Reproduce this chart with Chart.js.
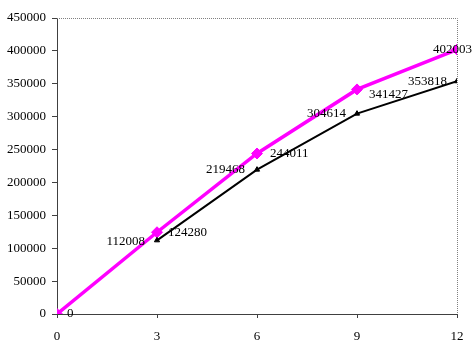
<!DOCTYPE html>
<html>
<head>
<meta charset="utf-8">
<script src="https://cdn.jsdelivr.net/npm/chart.js@4.4.1/dist/chart.umd.min.js"></script>
<style>
  html, body { margin: 0; padding: 0; background: #fff; }
  #wrap { width: 476px; height: 359px; }
</style>
</head>
<body>
<div id="wrap"><canvas id="chart" width="476" height="359"></canvas></div>
<script>
// Data
const months = [0, 3, 6, 9, 12];
const seriesPink = [0, 124280, 244011, 341427, 402003];
const seriesBlack = [null, 112008, 219468, 304614, 353818];

// Label placement per point: [align, dx, dy]
const pinkLabelPos = [['left', 10, 0], ['left', 11, 0], ['left', 13, 0], ['left', 12, 5], ['left', -24, 0]];
const blackLabelPos = [null, ['right', -12, 1], ['right', -12, 0], ['right', -11, 0], ['right', -10, 0]];

const FONT = '"Liberation Serif", "Times New Roman", serif';

// Draws value labels next to each point
const valueLabels = {
  id: 'valueLabels',
  afterDatasetsDraw(chart) {
    const ctx = chart.ctx;
    ctx.save();
    ctx.font = '13px ' + FONT;
    ctx.fillStyle = '#000';
    ctx.textBaseline = 'middle';
    chart.data.datasets.forEach((ds, i) => {
      const meta = chart.getDatasetMeta(i);
      const pos = i === 0 ? blackLabelPos : pinkLabelPos;
      meta.data.forEach((pt, j) => {
        const v = ds.data[j];
        if (v.y === null || !pos[j]) return;
        ctx.textAlign = pos[j][0];
        ctx.fillText(String(v.y), pt.x + pos[j][1], pt.y + pos[j][2]);
      });
    });
    ctx.restore();
  }
};

// Dotted top/right frame of the plot area
const frame = {
  id: 'frame',
  beforeDatasetsDraw(chart) {
    const { ctx, chartArea: a } = chart;
    ctx.save();
    ctx.strokeStyle = '#808080';
    ctx.lineWidth = 1;
    ctx.setLineDash([1, 1]);
    ctx.beginPath();
    ctx.moveTo(a.left, a.top + 0.5);
    ctx.lineTo(a.right + 0.5, a.top + 0.5);
    ctx.lineTo(a.right + 0.5, a.bottom);
    ctx.stroke();
    ctx.restore();
  }
};

new Chart(document.getElementById('chart'), {
  type: 'line',
  data: {
    datasets: [
      {
        data: months.map((m, i) => ({ x: m, y: seriesBlack[i] })),
        borderColor: '#000',
        backgroundColor: '#000',
        borderWidth: 2,
        pointStyle: 'triangle',
        pointRadius: 3,
        pointBorderWidth: 1,
        tension: 0,
        spanGaps: false
      },
      {
        data: months.map((m, i) => ({ x: m, y: seriesPink[i] })),
        borderColor: '#ff00ff',
        backgroundColor: '#ff00ff',
        borderWidth: 3.5,
        pointStyle: 'rectRot',
        pointRadius: 5.5,
        pointBorderWidth: 1,
        tension: 0
      }
    ]
  },
  options: {
    responsive: false,
    animation: false,
    layout: { padding: { top: 18, right: 19, left: 0, bottom: 0 } },
    plugins: { legend: { display: false }, tooltip: { enabled: false } },
    scales: {
      x: {
        type: 'linear',
        min: 0, max: 12,
        afterFit(s) { s.height = 45; },
        ticks: { stepSize: 3, color: '#000', font: { family: FONT, size: 13 }, padding: 11, maxRotation: 0 },
        grid: { drawOnChartArea: false, tickLength: 4, color: '#404040' },
        border: { color: '#404040', dash: [3, 1] }
      },
      y: {
        min: 0, max: 450000,
        afterFit(s) { s.width = 57; },
        ticks: { stepSize: 50000, color: '#000', font: { family: FONT, size: 13 }, padding: 6, callback: v => String(v) },
        grid: { drawOnChartArea: false, tickLength: 5, color: '#404040' },
        border: { color: '#404040', dash: [2, 1] }
      }
    }
  },
  plugins: [frame, valueLabels]
});
</script>
</body>
</html>
